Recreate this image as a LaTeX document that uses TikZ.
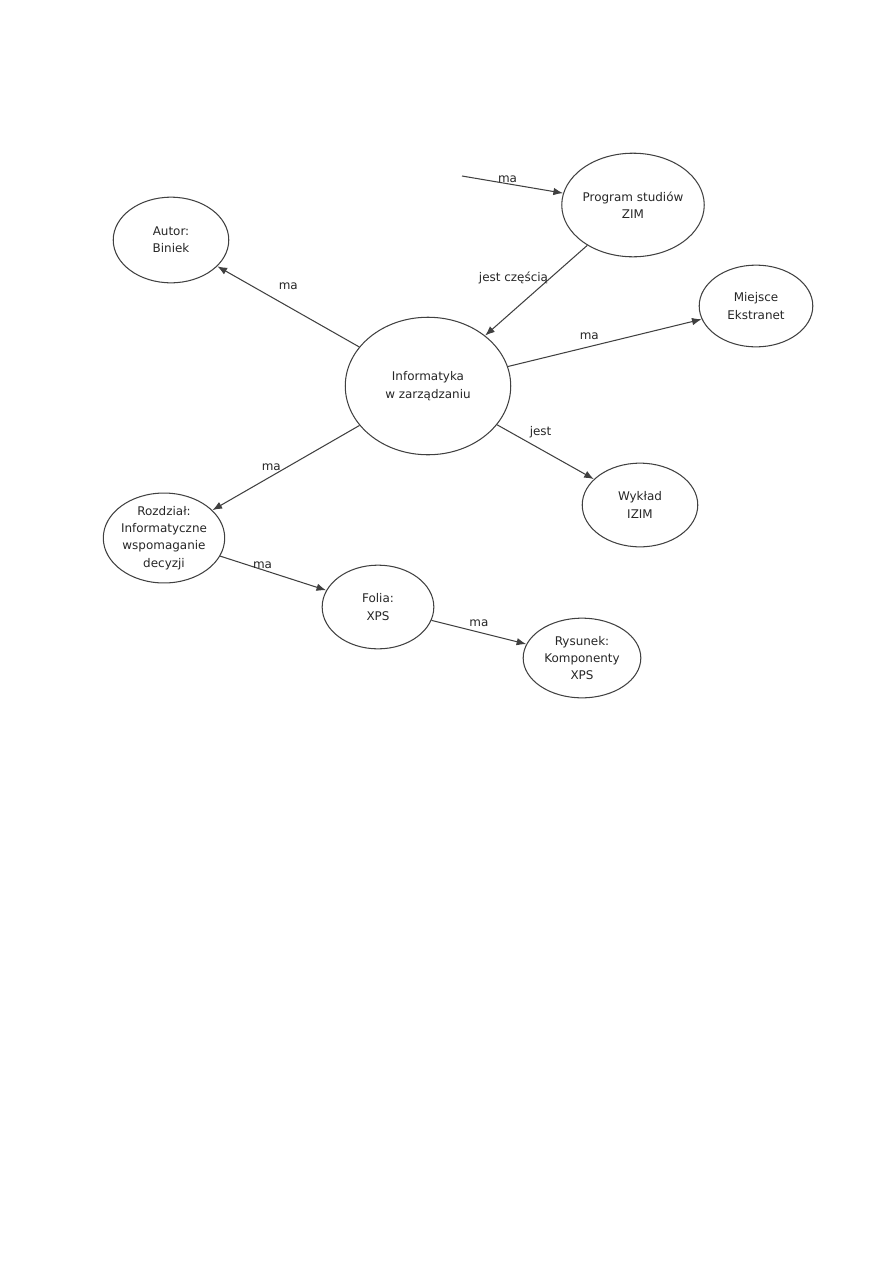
\documentclass[tikz,border=0pt]{standalone}
\usepackage{fontspec}
\setmainfont{DejaVu Sans}
\usetikzlibrary{shapes.geometric,arrows.meta}
\begin{document}
\begin{tikzpicture}[x=0.02352cm, y=-0.02352cm, >={Latex[length=6.5pt,width=5pt]},
  every node/.style={font=\fontsize{8}{11.6}\selectfont, text=black!85},
  pojecie/.style={draw=black!75, line width=0.7pt, ellipse, inner sep=0pt, align=center},
  rel/.style={->, draw=black!75, line width=0.7pt}]
\useasboundingbox (0,0) rectangle (893,1263);
\node[pojecie, minimum width=110.7pt, minimum height=92pt] (inf) at (428,386) {Informatyka\\w zarządzaniu};
\node[pojecie, minimum width=77.3pt, minimum height=57.3pt] (autor) at (171,240) {Autor:\\Biniek};
\node[pojecie, minimum width=89.3pt, minimum height=69.3pt] (program) at (633,205) {Program studiów\\ZIM};
\node[pojecie, minimum width=76pt, minimum height=54.7pt] (miejsce) at (756,306) {Miejsce\\Ekstranet};
\node[pojecie, minimum width=77.3pt, minimum height=56pt] (wyklad) at (640,505) {Wykład\\IZIM};
\node[pojecie, minimum width=74.7pt, minimum height=58.7pt] (rozdzial) at (164,538) {Rozdział:\\Informatyczne\\wspomaganie\\decyzji};
\node[pojecie, minimum width=74.7pt, minimum height=56pt] (folia) at (378,607) {Folia:\\XPS};
\node[pojecie, minimum width=78.7pt, minimum height=53.3pt] (rysunek) at (582,658) {Rysunek:\\Komponenty\\XPS};
\coordinate (wej) at (462,176);
\draw[rel] (wej) -- node[pos=0.45, above=-3pt] {ma} (program);
\draw[rel] (program) -- node[pos=0.36, left=-2pt] {jest częścią} (inf);
\draw[rel] (inf) -- node[pos=0.5, above=8pt] {ma} (autor);
\draw[rel] (inf) -- node[pos=0.42, above=1pt] {ma} (miejsce);
\draw[rel] (inf) -- node[pos=0.45, above=4pt] {jest} (wyklad);
\draw[rel] (inf) -- node[pos=0.6, above=0pt] {ma} (rozdzial);
\draw[rel] (rozdzial) -- node[pos=0.4, above=-3pt] {ma} (folia);
\draw[rel] (folia) -- node[pos=0.5, above=0pt] {ma} (rysunek);
\end{tikzpicture}
\end{document}
